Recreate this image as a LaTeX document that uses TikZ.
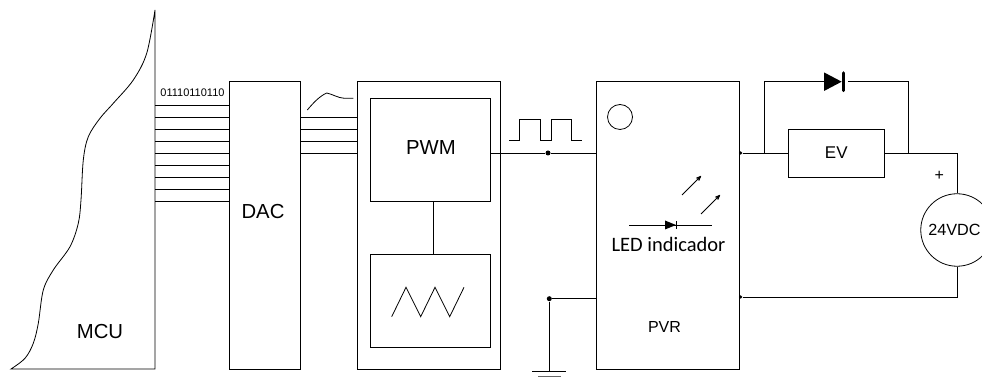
\documentclass[tikz,border=0pt]{standalone}
\usepackage{fontspec}
\setmainfont{Liberation Sans}
\newfontfamily\ledfont{Carlito}
\usetikzlibrary{positioning,calc,arrows}

\begin{document}
\begin{tikzpicture}[x=1pt,y=1pt,line width=.8pt]
    \tikzstyle{every node}=[rectangle,inner sep=0,font=\fontsize{20.3}{20}\selectfont]
    \tikzstyle{box}=[draw,fill=none]
    \tikzstyle{note}=[draw=none,fill=none]
    \tikzstyle{dot}=[circle,fill=black,draw=none,minimum size=5]
    \tikzstyle{pin}=[dot,minimum size=3.5]
    \useasboundingbox (0,0) rectangle (982,379);
    \clip (0,0) rectangle (982,379);
    {
        % left part
        \coordinate (mcutop) at (155,369);
        \coordinate (mcubot) at (155,10);
        \draw plot[smooth,tension=.55] coordinates {(11,10) (25,20.7) (33.3,35.7) (38.3,55.7) (43.3,89) (53.3,109) (70,132.3) (78.3,155.7) (81,179) (83.3,219) (88.3,242.3) (100,260.7) (113.3,275.7) (133.3,299) (146.7,325.7) (155,369)}
            -- (mcubot) -- cycle;
        \node[note] (mcu) at (100,47) {MCU};
        \node[box,minimum width=71,minimum height=287.5] (dac) at (265,153.75) {};
        \node[note] (daclabel) at (263,167) {DAC};
        \node[note,font=\fontsize{11}{11}\selectfont] (bits) at (192.5,286) {01110110110};

        \foreach \y [count=\i] in {274,262,250,238,226,214,202,190,178} {
            \coordinate (m\i) at (155,\y);
            \coordinate (d\i) at (229.5,\y);
            \draw (m\i) -- (d\i);
        }

        % modulator
        \node[box,minimum width=143,minimum height=287.5] (mod) at (428.5,153.75) {};
        \node[box,minimum width=120,minimum height=103] (pwm) at (430,229.5) {};
        \node[note] (pwmlabel) at (431,231.3) {PWM};
        \node[box,minimum width=120,minimum height=93] (osc) at (430,78.5) {};
        \draw (pwm.south -| 433,0) -- (osc.north -| 433,0);
        \draw (391.7,62.3) -- (406,91.7) -- (420.7,62.3) -- (435,91.7) -- (449.7,62.3) -- (464,91.7);

        \foreach \y [count=\i] in {262,250,238,226} {
            \coordinate (a\i) at (300.5,\y);
            \coordinate (b\i) at (357,\y);
            \draw (a\i) -- (b\i);
        }
        \draw (307.3,269) .. controls (314,277) and (320,283) .. (326.7,286) .. controls (332,285) and (338,281) .. (344.3,280.7) -- (353.3,280.7);

        % pulses
        \draw (509.3,239) -- (519.3,239) -- (519.3,260) -- (540.7,260) -- (540.7,239) -- (551,239) -- (551,260) -- (571.7,260) -- (571.7,239) -- (581.7,239);

        % PVR
        \node[box,minimum width=143,minimum height=287.5] (pvr) at (667.5,153.75) {};
        \node[note,font=\fontsize{16}{16}\selectfont] (pvrlabel) at (664.5,52) {PVR};
        \node[box,circle,minimum size=25] (lamp) at (620,262) {};

        \node[dot] (node1) at (548,226) {};
        \coordinate (pwmout) at (490,226);
        \draw (pwmout) -- (node1) -- (node1 -| pvr.west);

        \node[dot] (node2) at (549.3,80.3) {};
        \coordinate (gnd) at (549.3,8);
        \draw (pvr.west |- node2) -- (node2) -- (gnd);
        \draw (532,8) -- (566,8);
        \draw[line width=1pt,black!60] (538,2) -- (561,2);

        % LED
        \node[note,font=\ledfont\fontsize{20.5}{20}\selectfont] (led) at (668.5,134.5) {LED indicador};
        \coordinate (leda) at (629,154);
        \coordinate (ledb) at (712,154);
        \draw (leda) -- (ledb);
        \fill (665,158.5) -- (676,154) -- (665,149.5) -- cycle;
        \draw (676,150) -- (676,158);
        \draw[->,>=stealth'] (682,184) -- (701,203);
        \draw[->,>=stealth'] (701,165) -- (720,184);

        % load
        \node[pin] (out1) at (740.5,226) {};
        \node[pin] (out2) at (740.5,82) {};
        \node[box,minimum width=96,minimum height=48] (ev) at (836.3,226) {\fontsize{17}{17}\selectfont EV};
        \node[box,circle,minimum size=72.5] (vdc) at (957,149) {};
        \node[note,font=\fontsize{16.2}{16}\selectfont] (vdclabel) at (954.5,149) {24VDC};
        \node[note,font=\fontsize{16}{16}\selectfont] (plus) at (939.3,203) {+};

        \coordinate (bridgel) at (764.3,226);
        \coordinate (bridger) at (908.3,226);
        \coordinate (d1) at (824,297.3);
        \coordinate (d2) at (848,297.3);
        \draw (out1) -- (ev.west);
        \draw (ev.east) -- (vdc.north |- ev.east) -- (vdc.north);
        \draw (vdc.south) |- (out2);
        \draw (bridgel) |- (d1);
        \draw (d2) -| (bridger);
        \fill (d1) -- ++(0,9.3) -- ++(17.7,-9.3) -- ++(-17.7,-9.3) -- cycle;
        \draw[line width=3.5pt,line cap=round] (843.3,288.5) -- (843.3,306);
    }
\end{tikzpicture}
\end{document}
